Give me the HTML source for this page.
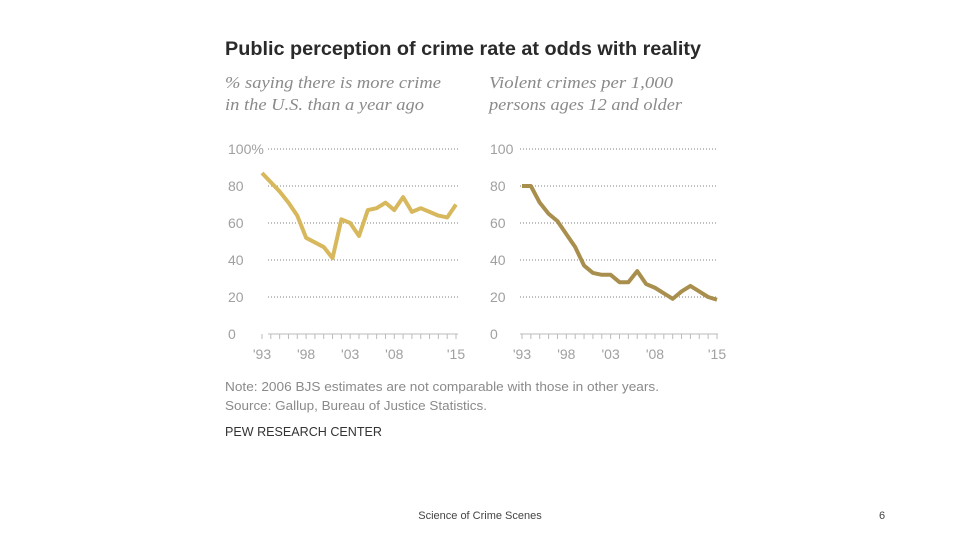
<!DOCTYPE html>
<html><head><meta charset="utf-8"><style>
body{margin:0;background:#fff;width:960px;height:540px;overflow:hidden}
svg{display:block}
</style></head><body>
<svg id="s" width="960" height="540" font-family="Liberation Sans, sans-serif">
<text x="225" y="55" font-size="19" font-weight="bold" fill="#2a2a2a" textLength="476" lengthAdjust="spacingAndGlyphs">Public perception of crime rate at odds with reality</text>
<g font-family="Liberation Serif, serif" font-style="italic" font-size="17" fill="#8a8a8a">
<text x="225" y="88" textLength="216" lengthAdjust="spacingAndGlyphs">% saying there is more crime</text>
<text x="225" y="110" textLength="199" lengthAdjust="spacingAndGlyphs">in the U.S. than a year ago</text>
<text x="489" y="88" textLength="184" lengthAdjust="spacingAndGlyphs">Violent crimes per 1,000</text>
<text x="489" y="110" textLength="193" lengthAdjust="spacingAndGlyphs">persons ages 12 and older</text>
</g>
<g id="left"></g>
<g id="right"></g>
<g font-size="13" fill="#8a8a8a">
<text x="225" y="391" textLength="434" lengthAdjust="spacingAndGlyphs">Note: 2006 BJS estimates are not comparable with those in other years.</text>
<text x="225" y="410" textLength="262" lengthAdjust="spacingAndGlyphs">Source: Gallup, Bureau of Justice Statistics.</text>
</g>
<text x="225" y="436" font-size="13" fill="#333" textLength="157" lengthAdjust="spacingAndGlyphs">PEW RESEARCH CENTER</text>
<text x="480" y="519" font-size="11" fill="#444" text-anchor="middle">Science of Crime Scenes</text>
<text x="882" y="519" font-size="11" fill="#444" text-anchor="middle">6</text>
</svg>
<script>
const years=[1993,1994,1995,1996,1997,1998,1999,2000,2001,2002,2003,2004,2005,2006,2007,2008,2009,2010,2011,2012,2013,2014,2015];
const perception=[87,82,77,71,64,52,49.5,47,41,62,60,53,67,68,71,67,74,66,68,66,64,63,70];
const violent=[80,80,71,65,61,54,47,37,33,32,32,28,28,34,27,25,22,19,23,26,23,20,18.5];
const yTicks=[0,20,40,60,80,100];
const leftYLabels=["0","20","40","60","80","100%"];
const rightYLabels=["0","20","40","60","80","100"];
const xTickYears=[1993,1998,2003,2008,2015];
const xTickLabels=["'93","'98","'03","'08","'15"];
const NS='http://www.w3.org/2000/svg';
function mk(tag,attrs,parent){const e=document.createElementNS(NS,tag);for(const k in attrs)e.setAttribute(k,attrs[k]);parent.appendChild(e);return e;}
function draw(g,x0,x1,gx0,gx1,labX,labels,vals,color,prefix){
  const y=v=>334-v*1.85;
  const x=yr=>x0+(yr-1993)*(x1-x0)/22;
  yTicks.forEach((t,i)=>{
    if(t>0){const l=mk('line',{x1:gx0,x2:gx1,y1:y(t),y2:y(t),stroke:'#999','stroke-width':1.2,'stroke-dasharray':'1 2'},g);
    
    }
    const tx=mk('text',{x:labX,y:y(t)+5,'font-size':14,fill:'#a0a0a0','font-family':'Liberation Sans, sans-serif'},g);
    tx.textContent=labels[i];
    
    
  });
  const ax=mk('line',{x1:gx0,x2:gx1,y1:334,y2:334,stroke:'#bbb','stroke-width':1},g);
  
  
  years.forEach(yr=>{const t=mk('line',{x1:x(yr),x2:x(yr),y1:334,y2:339,stroke:'#bbb','stroke-width':1},g);
    
    });
  xTickYears.forEach((yr,i)=>{const t=mk('text',{x:x(yr),y:359,'font-size':14,fill:'#a0a0a0','text-anchor':'middle','font-family':'Liberation Sans, sans-serif'},g);
    t.textContent=xTickLabels[i];
    
    });
  const p=mk('polyline',{points:vals.map((v,i)=>x(years[i])+','+y(v)).join(' '),fill:'none',stroke:color,'stroke-width':4,'stroke-linejoin':'round'},g);
  
  
}
draw(document.getElementById('left'),262,456,268,458,228,leftYLabels,perception,'#d8b85c','perception');
draw(document.getElementById('right'),522,717,520,718,490,rightYLabels,violent,'#a98f4e','violent');
</script>
</body></html>
